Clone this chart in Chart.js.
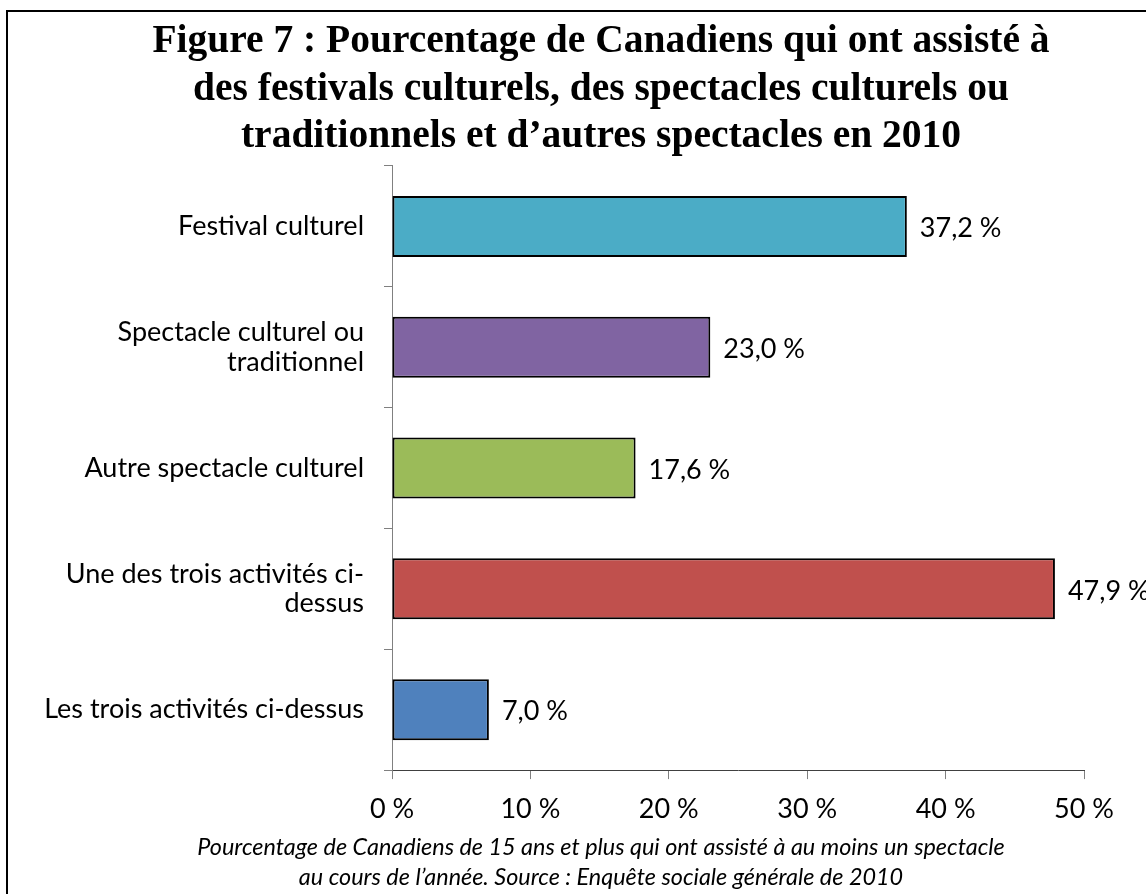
<!DOCTYPE html>
<html lang="fr">
<head>
<meta charset="utf-8">
<script src="https://cdn.jsdelivr.net/npm/chart.js@4"></script>
<style>
    html, body { margin: 0; padding: 0; background: #ffffff; overflow: hidden; }
    #frame { position: absolute; left: 6px; top: 10px; width: 1300px; height: 1000px; border: 2px solid #000000; }
    #chart { position: absolute; left: 0; top: 0; }
</style>
</head>
<body>
<div id="frame"></div>
<canvas id="chart" width="1146" height="894"></canvas>
<script>
// Data
const categories = [
    'Festival culturel',
    ['Spectacle culturel ou', 'traditionnel'],
    'Autre spectacle culturel',
    ['Une des trois activités ci-', 'dessus'],
    'Les trois activités ci-dessus'
];
const percentages = [37.2, 23.0, 17.6, 47.9, 7.0];
const barColors = ['#4BACC6', '#8064A2', '#9BBB59', '#C0504D', '#4F81BD'];
const xTicks = [0, 10, 20, 30, 40, 50];

const titleLines = [
    'Figure 7 : Pourcentage de Canadiens qui ont assisté à',
    'des festivals culturels, des spectacles culturels ou',
    'traditionnels et d\u2019autres spectacles en 2010'
];
const noteLines = [
    'Pourcentage de Canadiens de 15 ans et plus qui ont assisté à au moins un spectacle',
    'au cours de l\u2019année. Source : Enquête sociale générale de 2010'
];

const labelFont = 'Lato, "Open Sans", sans-serif';

// Format a value the French way: 37,2 %
function frPercent(v) {
    return v.toFixed(1).replace('.', ',') + ' %';
}

// Draw the value next to each bar
const valueLabels = {
    id: 'valueLabels',
    afterDatasetsDraw: function (chart) {
        const ctx = chart.ctx;
        const meta = chart.getDatasetMeta(0);
        ctx.save();
        ctx.font = '27px ' + labelFont;
        ctx.fillStyle = '#000000';
        ctx.textAlign = 'left';
        ctx.textBaseline = 'middle';
        meta.data.forEach(function (bar, i) {
            ctx.fillText(frPercent(percentages[i]), bar.x + 13, bar.y + 2);
        });
        ctx.restore();
    }
};

const ctx = document.getElementById('chart').getContext('2d');
new Chart(ctx, {
    type: 'bar',
    data: {
        labels: categories,
        datasets: [{
            data: percentages,
            backgroundColor: barColors,
            borderColor: '#000000',
            borderWidth: 2,
            borderSkipped: false,
            categoryPercentage: 1,
            barPercentage: 0.505
        }]
    },
    plugins: [valueLabels],
    options: {
        indexAxis: 'y',
        responsive: false,
        animation: false,
        layout: {
            // uneven sides so the title and note sit a bit right of the page centre
            padding: { top: 10, left: 38, right: -18, bottom: 2 }
        },
        plugins: {
            legend: { display: false },
            tooltip: { enabled: false },
            title: {
                display: true,
                text: titleLines,
                color: '#000000',
                font: { family: '"Liberation Serif", serif', size: 39.5, weight: 'bold', lineHeight: 1.2025 },
                padding: { top: 8.2, bottom: 5.3 }
            },
            subtitle: {
                display: true,
                position: 'bottom',
                text: noteLines,
                color: '#000000',
                font: { family: labelFont, size: 23.4, style: 'italic', lineHeight: 1.28 },
                padding: { top: 2, bottom: 0 }
            }
        },
        scales: {
            x: {
                min: 0,
                max: 50,
                afterBuildTicks: function (axis) {
                    axis.ticks = xTicks.map(function (v) { return { value: v }; });
                },
                afterFit: function (axis) {
                    axis.height = 60;
                    // leave room on the right like the original plot area
                    axis.paddingRight = 62;
                },
                border: { display: true, color: '#404040', width: 1 },
                grid: { drawOnChartArea: false, drawTicks: true, tickLength: 9, color: '#808080' },
                ticks: {
                    color: '#000000',
                    padding: 14,
                    maxRotation: 0,
                    font: { family: labelFont, size: 27 },
                    callback: function (v) { return v + ' %'; }
                }
            },
            y: {
                afterFit: function (axis) {
                    axis.width = 354;
                },
                border: { display: true, color: '#808080', width: 1 },
                grid: { drawOnChartArea: false, drawTicks: true, tickLength: 8, color: '#808080', offset: true },
                ticks: {
                    color: '#000000',
                    padding: 20,
                    font: { family: labelFont, size: 27, lineHeight: 1.1 }
                }
            }
        }
    }
});
</script>
</body>
</html>
